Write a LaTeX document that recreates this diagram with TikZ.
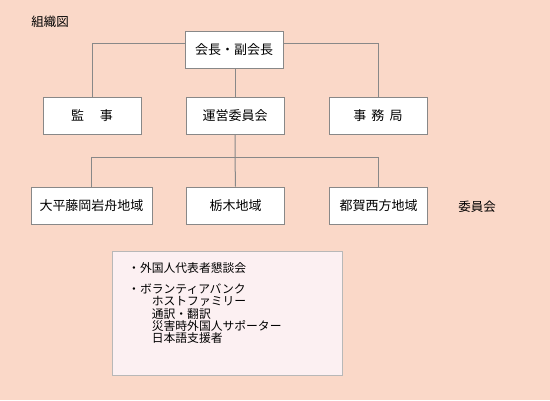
\documentclass[tikz,border=0pt]{standalone}
\usepackage{fontspec}
\setmainfont{Noto Sans CJK JP}
\definecolor{bgpeach}{RGB}{250,216,200}
\definecolor{notepink}{RGB}{252,240,242}
\definecolor{linegray}{RGB}{136,136,136}
\tikzset{
  orgbox/.style={draw=linegray, line width=1pt, fill=white, minimum width=98pt, minimum height=37pt, inner sep=0pt, font=\fontsize{13}{14}\selectfont},
  link/.style={draw=linegray, line width=1pt}
}
\begin{document}
\begin{tikzpicture}[x=1pt,y=-1pt]
            \fill[bgpeach] (0,0) rectangle (550,400);
            \useasboundingbox (0,0) rectangle (550,400);
            \node (title) at (50,22) {\fontsize{12.5}{14}\selectfont 組織図};
            % top
            \node[orgbox] (chair) at (234,49.5) {会長・副会長};
            \node[orgbox] (audit) at (92,115.5) {監\hspace{1.2em}事};
            \node[orgbox] (board) at (235,115.5) {運営委員会};
            \node[orgbox] (office) at (378,115.5) {事\hspace{0.4em}務\hspace{0.4em}局};
            % regions
            \node[orgbox, minimum width=121pt] (east) at (91.5,205.5) {大平藤岡岩舟地域};
            \node[orgbox] (mid) at (235.5,205.5) {栃木地域};
            \node[orgbox] (west) at (378.5,205.5) {都賀西方地域};
            \node (comm) at (477,207) {\fontsize{12.5}{14}\selectfont 委員会};
            \draw[link] ([yshift=6pt]chair.west) -| (audit.north);
            \draw[link] ([yshift=6pt]chair.east) -| (office.north);
            \draw[link] (chair.south -| board.north) -- (board.north);
            \coordinate (fork) at (235,157);
            \draw[link] (board.south) -- (fork) -- (mid.north);
            \draw[link] (fork) -| (east.north);
            \draw[link] (fork) -| (west.north);
            % note box
            \draw[draw=linegray!60, fill=notepink, line width=0.8pt] (112,251) rectangle (342,375);
            \node[anchor=north west, inner sep=0pt, align=left, font=\fontsize{11.8}{12.3}\selectfont] (note) at (128,262)
              {・外国人代表者懇談会\\[9pt]
               ・ボランティアバンク\\
               \hspace{2em}ホストファミリー\\
               \hspace{2em}通訳・翻訳\\
               \hspace{2em}災害時外国人サポーター\\
               \hspace{2em}日本語支援者};
\end{tikzpicture}
\end{document}
